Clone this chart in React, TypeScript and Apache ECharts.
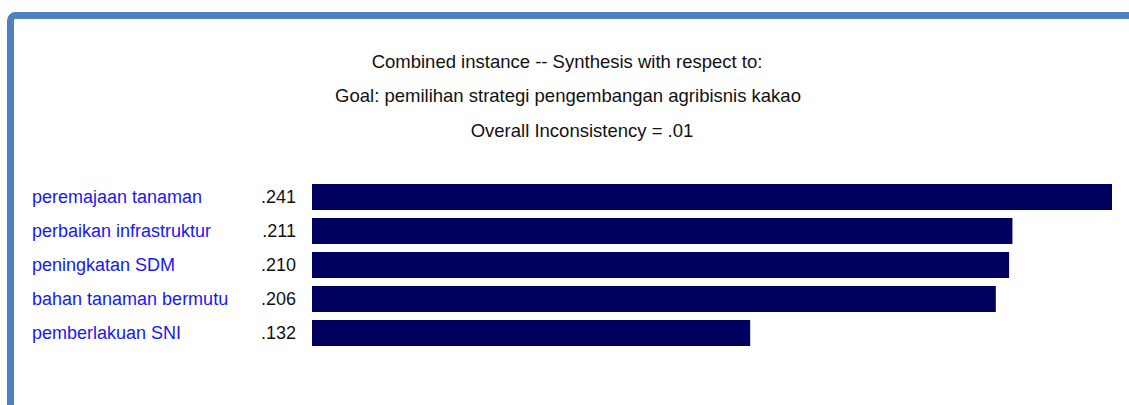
import React, { useEffect, useRef } from "react";
import * as echarts from "echarts";

const categories = [
  "peremajaan tanaman",
  "perbaikan infrastruktur",
  "peningkatan SDM",
  "bahan tanaman bermutu",
  "pemberlakuan SNI",
];
const values = [0.241, 0.211, 0.21, 0.206, 0.132];
const valueLabels = [".241", ".211", ".210", ".206", ".132"];
const titleLines = [
  "Combined instance -- Synthesis with respect to:",
  "Goal: pemilihan strategi pengembangan agribisnis kakao",
  "Overall Inconsistency = .01",
];
const titleCenters = [567, 568, 582];

const FONT = "'Liberation Sans', Arial, sans-serif";

export default function App() {
  const ref = useRef<HTMLDivElement>(null);
  useEffect(() => {
    if (!ref.current) return;
    const chart = echarts.init(ref.current, null, { renderer: "svg" });
    chart.setOption({
      animation: false,
      backgroundColor: "#ffffff",
      title: titleLines.map((t, i) => ({
        text: t,
        left: titleCenters[i],
        textAlign: "center",
        top: 48 + i * 34.5,
        padding: 0,
        textStyle: {
          fontFamily: FONT,
          fontSize: 18.5,
          fontWeight: "normal",
          color: "#111111",
          lineHeight: 26,
        },
      })),
      graphic: [
        {
          type: "rect",
          shape: { x: 10.5, y: 15.5, width: 1300, height: 600, r: 5 },
          style: { fill: "none", stroke: "#4f81bd", lineWidth: 7 },
          silent: true,
        },
      ],
      grid: { left: 312, right: 17, top: 180, height: 170 },
      xAxis: {
        type: "value",
        min: 0,
        max: 0.241,
        show: false,
      },
      yAxis: {
        type: "category",
        data: categories,
        inverse: true,
        axisLine: { show: false },
        axisTick: { show: false },
        splitLine: { show: false },
        axisLabel: {
          margin: 16,
          align: "right",
          formatter: (v: string, i: number) => `{n|${v}}{v|${valueLabels[i]}}`,
          rich: {
            n: {
              width: 226,
              align: "left",
              fontFamily: FONT,
              fontSize: 18,
              color: "#1818f0",
            },
            v: {
              width: 38,
              align: "right",
              fontFamily: FONT,
              fontSize: 18,
              color: "#111111",
            },
          },
        },
      },
      series: [
        {
          type: "bar",
          data: values,
          barWidth: 26,
          itemStyle: { color: "#00005e" },
          silent: true,
        },
      ],
    });
    return () => chart.dispose();
  }, []);
  return (
    <div
      ref={ref}
      style={{ position: "fixed", left: 0, top: 0, width: 1129, height: 405 }}
    />
  );
}
